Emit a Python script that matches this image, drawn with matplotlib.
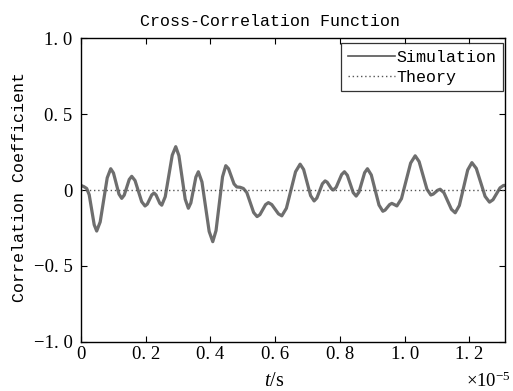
import matplotlib
matplotlib.use("Agg")
import matplotlib.pyplot as plt
from matplotlib.lines import Line2D

# time in units of 1e-5 s
t = [0.0, 0.009, 0.0176, 0.0253, 0.0331, 0.0408, 0.0485, 0.0593, 0.0702, 0.0810,
     0.0918, 0.1003, 0.1088, 0.1173, 0.1258, 0.1335, 0.1413, 0.1490, 0.1567, 0.1670,
     0.1773, 0.1875, 0.1978, 0.2048, 0.2118, 0.2187, 0.2257, 0.2317, 0.2376, 0.2436,
     0.2495, 0.2603, 0.2711, 0.2819, 0.2927, 0.3025, 0.3122, 0.3220, 0.3317, 0.3394,
     0.3472, 0.3549, 0.3626, 0.3737, 0.3849, 0.3960, 0.4071, 0.4172, 0.4272, 0.4373,
     0.4473, 0.4558, 0.4643, 0.4728, 0.4813, 0.4915, 0.5017, 0.5123, 0.5229, 0.5334,
     0.5440, 0.5528, 0.5615, 0.5703, 0.5790, 0.5894, 0.5997, 0.6101, 0.6204, 0.6346,
     0.6487, 0.6629, 0.6770, 0.6878, 0.6986, 0.7094, 0.7202, 0.7287, 0.7373, 0.7458,
     0.7543, 0.7607, 0.7671, 0.7735, 0.7799, 0.7884, 0.7969, 0.8054, 0.8139, 0.8229,
     0.8320, 0.8410, 0.8501, 0.8588, 0.8676, 0.8763, 0.8850, 0.8969, 0.9088, 0.9207,
     0.9326, 0.9396, 0.9465, 0.9535, 0.9604, 0.9682, 0.9759, 0.9901, 1.0042, 1.0184,
     1.0325, 1.0446, 1.0568, 1.0689, 1.0810, 1.0882, 1.0954, 1.1025, 1.1097, 1.1213,
     1.1329, 1.1445, 1.1561, 1.1690, 1.1819, 1.1948, 1.2077, 1.2213, 1.2349, 1.2485,
     1.2621, 1.2729, 1.2838, 1.2946, 1.3054, 1.3107]
simulation = [0.03, 0.022, 0.01, -0.031, -0.13, -0.229, -0.27, -0.21, -0.065, 0.080,
              0.14, 0.112, 0.0425, -0.027, -0.055, -0.034, 0.0175, 0.069, 0.09, 0.062,
              -0.0075, -0.077, -0.105, -0.093, -0.0625, -0.032, -0.02, -0.032, -0.06, -0.088,
              -0.10, -0.044, 0.0925, 0.229, 0.285, 0.226, 0.0825, -0.061, -0.12, -0.085,
              0.0, 0.085, 0.12, 0.053, -0.11, -0.273, -0.34, -0.267, -0.09, 0.087,
              0.16, 0.14, 0.09, 0.04, 0.02, 0.018, 0.01, -0.017, -0.0825, -0.148,
              -0.175, -0.162, -0.129, -0.096, -0.083, -0.096, -0.1265, -0.157, -0.17, -0.120,
              0.0, 0.120, 0.17, 0.135, 0.049, -0.037, -0.072, -0.053, -0.006, 0.041,
              0.06, 0.051, 0.03, 0.009, 0.0, 0.018, 0.06, 0.102, 0.12, 0.097,
              0.04, -0.017, -0.04, -0.014, 0.05, 0.114, 0.14, 0.099, 0.0, -0.099,
              -0.14, -0.132, -0.114, -0.096, -0.088, -0.096, -0.105, -0.057, 0.06, 0.177,
              0.225, 0.187, 0.096, 0.005, -0.033, -0.027, -0.014, -0.001, 0.005, -0.018,
              -0.0725, -0.127, -0.15, -0.102, 0.015, 0.132, 0.18, 0.142, 0.05, -0.042,
              -0.08, -0.064, -0.025, 0.014, 0.03, 0.03]
theory_t = [0.0, 1.31]
theory = [0.0, 0.0]

x_ticks = [0, 0.2, 0.4, 0.6, 0.8, 1.0, 1.2]
x_labels = ["0", "0. 2", "0. 4", "0. 6", "0. 8", "1. 0", "1. 2"]
y_ticks = [-1.0, -0.5, 0, 0.5, 1.0]
y_labels = ["\u22121. 0", "\u22120. 5", "0", "0. 5", "1. 0"]

plt.rcParams['mathtext.fontset'] = 'custom'
plt.rcParams['mathtext.rm'] = 'Liberation Serif'
plt.rcParams['mathtext.it'] = 'Liberation Serif:italic'

W, H = 513, 391
fig = plt.figure(figsize=(W / 100, H / 100), dpi=100)
ax = fig.add_axes([81 / W, (H - 342) / H, 424 / W, 304 / H])

ax.plot(t, simulation, color='#6e6e6e', lw=2.3, solid_joinstyle='round')
ax.plot(theory_t, theory, color='#555555', lw=1.0, linestyle=(0, (1, 2)))

ax.set_xlim(0, 1.31)
ax.set_ylim(-1, 1)
ax.set_xticks(x_ticks)
ax.set_xticklabels(x_labels, family='Liberation Serif', fontsize=13.5)
ax.set_yticks(y_ticks)
ax.set_yticklabels(y_labels, family='Liberation Serif', fontsize=13.5)
ax.tick_params(direction='in', top=True, right=True, length=4, width=0.8)
ax.tick_params(axis='x', pad=3)
ax.tick_params(axis='y', pad=6)
for s in ax.spines.values():
    s.set_linewidth(1.0)

mono = 'Liberation Mono'
serif = 'Liberation Serif'
fig.text(270 / W, 1 - 21 / H, "Cross-Correlation Function", family=mono,
         fontsize=12, ha='center', va='center')
fig.text(20 / W, 1 - 187 / H, "Correlation Coefficient", family=mono,
         fontsize=12, ha='center', va='center', rotation=90)
fig.text(274 / W, 1 - 381 / H, "$t$/s", family=serif, fontsize=14.5,
         ha='center', va='center')
fig.text(511 / W, 1 - 381 / H, "$\\times10^{-5}$", family=serif,
         fontsize=13.5, ha='right', va='center')

handles = [Line2D([], [], color='#555555', lw=1.2),
           Line2D([], [], color='#555555', lw=1.0, linestyle=(0, (1, 2)))]
leg = fig.legend(handles, ["Simulation", "Theory"], loc='upper right',
                 bbox_to_anchor=(503 / W, 1 - 43 / H), bbox_transform=fig.transFigure,
                 prop={'family': mono, 'size': 12}, frameon=True, fancybox=False,
                 borderaxespad=0, handlelength=2.8, handletextpad=0.1,
                 labelspacing=0.3, borderpad=0.4)
leg.get_frame().set_edgecolor('black')
leg.get_frame().set_linewidth(0.9)

fig.savefig("out.png", dpi=100)
